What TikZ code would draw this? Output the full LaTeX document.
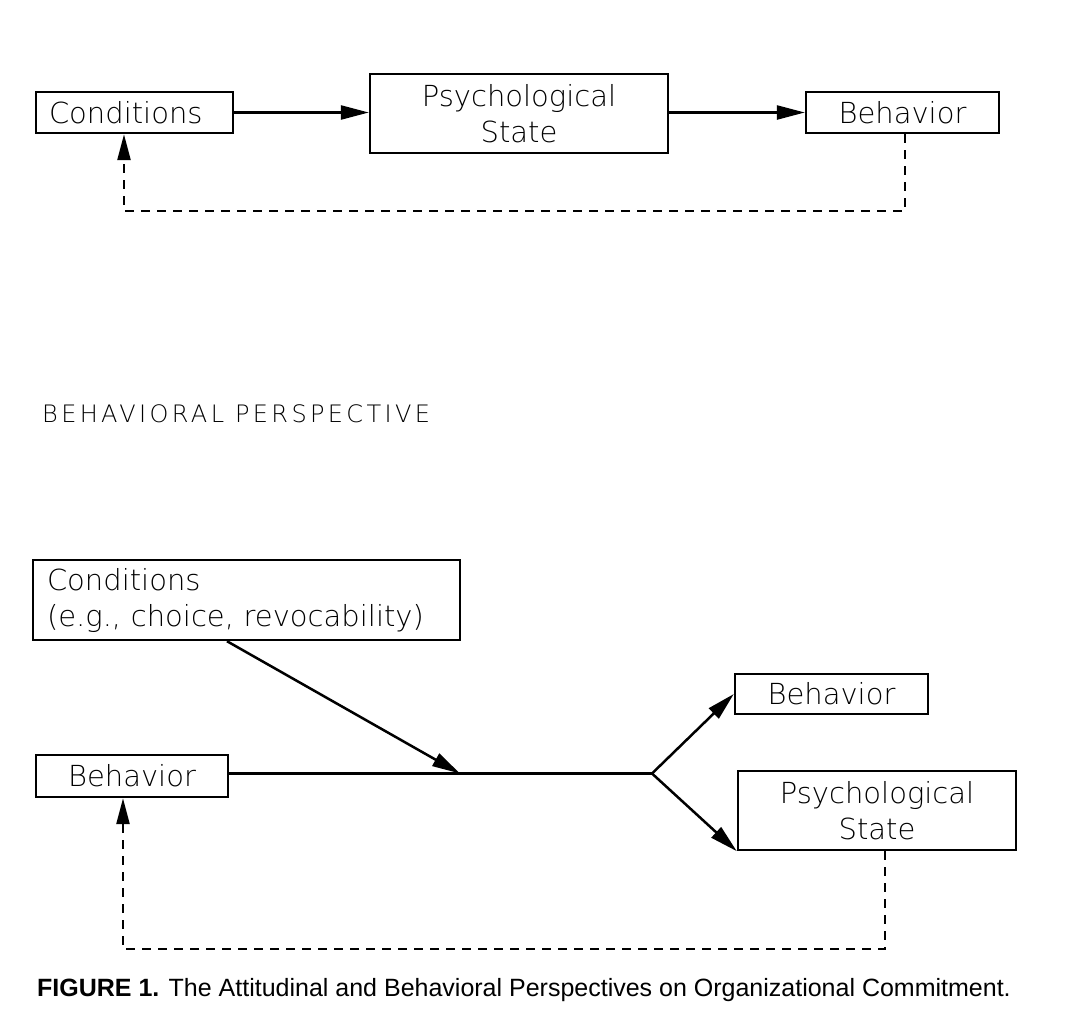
\documentclass[tikz,border=0pt]{standalone}
\usepackage{fontspec}
\setmainfont{Liberation Sans}
\newfontfamily\boxfont{DejaVu Sans ExtraLight}
\newfontfamily\headfont[LetterSpace=14]{DejaVu Sans ExtraLight}
\usetikzlibrary{arrows.meta,calc}
\tikzset{
  box/.style={draw, line width=2.4pt, inner sep=0pt,
    font={\boxfont\fontsize{29}{36}\selectfont}},
  arr/.style={line width=2.5pt, -{Triangle[length=28pt,width=14pt]}},
  fb/.style={line width=2.5pt, dash pattern=on 9pt off 7pt,
    -{Triangle[length=26pt,width=13pt]}},
}
\begin{document}
\begin{tikzpicture}[x=1pt,y=-1pt]
\fill[white] (0,0) rectangle (1086,1020);
\useasboundingbox (0,0) rectangle (1086,1020);

% top: attitudinal
\node[box, minimum height=41pt, text width=171pt, inner xsep=13pt, align=left] (cond1) at (134.5,112.5) {Conditions};
\node[box, minimum width=298pt, minimum height=79pt, align=center] (ps1) at (519,113.5) {Psychological\\State};
\node[box, minimum width=193pt, minimum height=41pt] (beh1) at (902.5,112.5) {Behavior};
\coordinate (fbL1) at (124,211);

\draw[arr] (cond1.east) -- (cond1.east -| ps1.west);
\draw[arr] (ps1.east |- beh1.west) -- (beh1.west);
\draw[fb] ([xshift=2.5pt]beh1.south) |- (fbL1) -- (fbL1 |- cond1.south);

% heading
\node[anchor=base west, inner sep=0pt, font={\headfont\fontsize{24}{28}\selectfont}] (head) at (42,422) {BEHAVIORAL PERSPECTIVE};

% bottom: behavioral
\node[box, minimum height=80pt, text width=399pt, inner xsep=14pt, align=left] (cond2) at (246.5,600) {Conditions\\(e.g., choice, revocability)};
\node[box, minimum width=192pt, minimum height=42pt] (beh2L) at (132,776) {Behavior};
\node[box, minimum width=193pt, minimum height=40pt] (beh2R) at (831.5,694) {Behavior};
\node[box, minimum width=278pt, minimum height=79pt, align=center] (ps2) at (877,810.5) {Psychological\\State};
\coordinate (J) at (652,773.5);
\coordinate (M) at (460,773.5);
\coordinate (fbL2) at (123,949);

\draw[line width=2.5pt] (J -| beh2L.east) -- (J);
\draw[arr] ([xshift=-19.5pt]cond2.south) -- (M);
\draw[arr] (J) -- (beh2R.west);
\draw[arr] (J) -- (ps2.south west);
\draw[fb] ([xshift=8pt]ps2.south) |- (fbL2) -- (fbL2 |- beh2L.south);

% caption
\node[anchor=base west, inner sep=0pt, font={\fontsize{25}{30}\selectfont}] (cap) at (37,996) {\textbf{FIGURE 1.} The Attitudinal and Behavioral Perspectives on Organizational Commitment.};
\end{tikzpicture}
\end{document}
